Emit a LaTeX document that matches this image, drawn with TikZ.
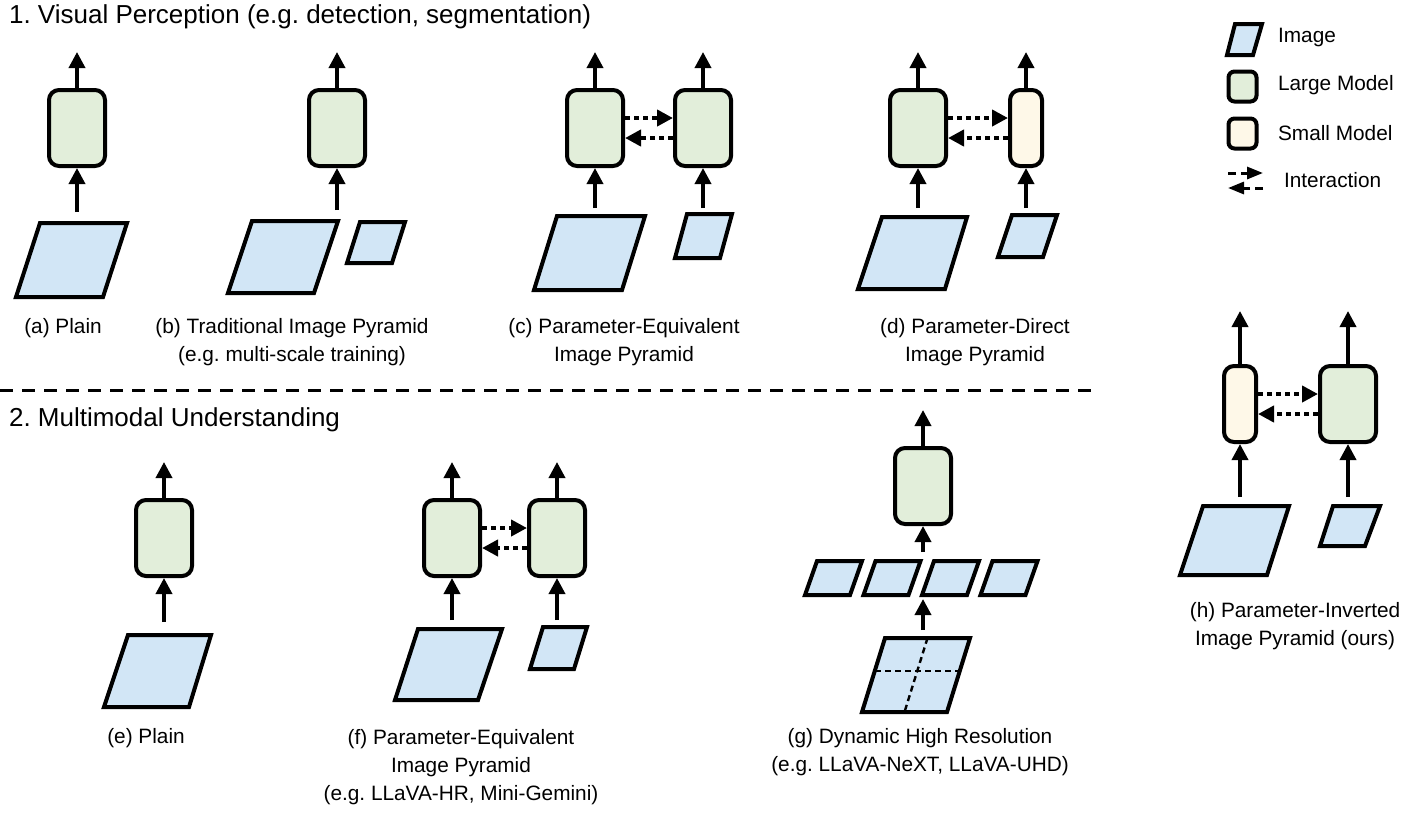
\documentclass[tikz,border=0pt]{standalone}
\usepackage{fontspec}
\setmainfont{Liberation Sans}
\usetikzlibrary{arrows.meta,positioning}
\frenchspacing

\definecolor{imgblue}{HTML}{D2E6F6}
\definecolor{largegreen}{HTML}{E2EEDA}
\definecolor{smallyellow}{HTML}{FEF8E8}

\begin{document}
\begin{tikzpicture}[
x=0.5pt, y=-0.5pt,
font=\fontsize{10.4}{14}\selectfont,
large/.style={draw, line width=2pt, rounded corners=5pt, fill=largegreen, minimum width=28pt, minimum height=38pt, inner sep=0pt},
small/.style={large, fill=smallyellow, minimum width=16pt},
img/.style={draw, line width=2pt, fill=imgblue, line join=miter},
flow/.style={line width=1.8pt, -{Triangle[width=8pt,length=8pt]}},
inter/.style={line width=2pt, dash pattern=on 2.5pt off 2pt, -{Triangle[width=8pt,length=8pt]}},
legarrow/.style={line width=1.5pt, dash pattern=on 4pt off 2.5pt, -{Triangle[width=6pt,length=8pt]}},
heading/.style={anchor=west, font=\fontsize{13}{16}\selectfont},
caption/.style={align=center},
divider/.style={line width=1.5pt, dash pattern=on 6.5pt off 4.5pt}
]
    \useasboundingbox (0,0) rectangle (1411,815);

    % Headings
    \node[heading] (head1) at (2,17) {1. Visual Perception (e.g. detection, segmentation)};
    \node[heading] (head2) at (2,420) {2. Multimodal Understanding};
    \draw[divider] (0,390) -- (1100,390);

    % (a) plain
    \draw[img] (40,223) -- (127,223) -- (103,297) -- (16,297) -- cycle;
    \coordinate (ia) at (77,212);
    \node[large] (ma) at (77,128) {};
    \draw[flow] (ia) -- (ma);
    \draw[flow] (ma.north) -- ++(0,-36);
    \node[caption] (capa) at (63,328) {(a) Plain};

    % (b) traditional pyramid
    \draw[img] (252,221) -- (338,221) -- (314,293) -- (228,293) -- cycle;
    \draw[img] (360,222) -- (405,222) -- (392,263) -- (347,263) -- cycle;
    \coordinate (ib) at (337,210);
    \node[large] (mb) at (337,128) {};
    \draw[flow] (ib) -- (mb);
    \draw[flow] (mb.north) -- ++(0,-36);
    \node[caption] (capb) at (292,342) {(b) Traditional Image Pyramid\\(e.g. multi-scale training)};

    % (c) parameter-equivalent
    \draw[img] (557,216) -- (645,216) -- (622,290) -- (534,290) -- cycle;
    \draw[img] (687,214) -- (732,214) -- (720,258) -- (675,258) -- cycle;
    \coordinate (ic1) at (595,208);
    \coordinate (ic2) at (703,208);
    \node[large] (mc1) at (595,128) {};
    \node[large] (mc2) at (703,128) {};
    \draw[flow] (ic1) -- (mc1);
    \draw[flow] (ic2) -- (mc2);
    \draw[flow] (mc1.north) -- ++(0,-36);
    \draw[flow] (mc2.north) -- ++(0,-36);
    \draw[inter] ([yshift=5pt]mc1.east) -- ([yshift=5pt]mc2.west);
    \draw[inter] ([yshift=-5pt]mc2.west) -- ([yshift=-5pt]mc1.east);
    \node[caption] (capc) at (624,342) {(c) Parameter-Equivalent\\Image Pyramid};

    % (d) parameter-direct
    \draw[img] (882,217) -- (967,217) -- (945,289) -- (858,289) -- cycle;
    \draw[img] (1012,215) -- (1057,215) -- (1043,257) -- (998,257) -- cycle;
    \coordinate (id1) at (918,208);
    \coordinate (id2) at (1026,208);
    \node[large] (md1) at (918,128) {};
    \node[small] (md2) at (1026,128) {};
    \draw[flow] (id1) -- (md1);
    \draw[flow] (id2) -- (md2);
    \draw[flow] (md1.north) -- ++(0,-36);
    \draw[flow] (md2.north) -- ++(0,-36);
    \draw[inter] ([yshift=5pt]md1.east) -- ([yshift=5pt]md2.west);
    \draw[inter] ([yshift=-5pt]md2.west) -- ([yshift=-5pt]md1.east);
    \node[caption] (capd) at (975,342) {(d) Parameter-Direct\\Image Pyramid};

    % (e) plain
    \draw[img] (128,635) -- (211,635) -- (189,707) -- (104,707) -- cycle;
    \coordinate (ie) at (164,622);
    \node[large] (me) at (164,538) {};
    \draw[flow] (ie) -- (me);
    \draw[flow] (me.north) -- ++(0,-36);
    \node[caption] (cape) at (146,738) {(e) Plain};

    % (f) parameter-equivalent
    \draw[img] (418,629) -- (502,629) -- (478,700) -- (395,700) -- cycle;
    \draw[img] (543,627) -- (587,627) -- (574,669) -- (530,669) -- cycle;
    \coordinate (if1) at (452,620);
    \coordinate (if2) at (557,620);
    \node[large] (mf1) at (452,538) {};
    \node[large] (mf2) at (557,538) {};
    \draw[flow] (if1) -- (mf1);
    \draw[flow] (if2) -- (mf2);
    \draw[flow] (mf1.north) -- ++(0,-36);
    \draw[flow] (mf2.north) -- ++(0,-36);
    \draw[inter] ([yshift=5pt]mf1.east) -- ([yshift=5pt]mf2.west);
    \draw[inter] ([yshift=-5pt]mf2.west) -- ([yshift=-5pt]mf1.east);
    \node[caption] (capf) at (461,767) {(f) Parameter-Equivalent\\Image Pyramid\\(e.g. LLaVA-HR, Mini-Gemini)};

    % (g) dynamic high resolution
    \draw[img] (885,638) -- (970,638) -- (947,712) -- (862,712) -- cycle;
    \draw[line width=1.2pt, dash pattern=on 3pt off 2pt] (875,671) -- (960,671);
    \draw[line width=1.2pt, dash pattern=on 3pt off 2pt] (927.5,638) -- (904.5,712);
    \foreach \i in {0,1,2,3}
      \draw[img] (817+58.5*\i,561) -- (862+58.5*\i,561) -- (850+58.5*\i,595) -- (805+58.5*\i,595) -- cycle;
    \coordinate (ig1) at (923,630);
    \coordinate (ig2) at (923,599);
    \coordinate (ig3) at (923,552);
    \node[large] (mg) at (923,486) {};
    \draw[flow] (ig1) -- (ig2);
    \draw[flow] (ig3) -- (mg);
    \draw[flow] (mg.north) -- ++(0,-36);
    \node[caption] (capg) at (920,752) {(g) Dynamic High Resolution\\(e.g. LLaVA-NeXT, LLaVA-UHD)};

    % (h) parameter-inverted (ours)
    \draw[img] (1203,506) -- (1289,506) -- (1267,575) -- (1180,575) -- cycle;
    \draw[img] (1333,506) -- (1380,506) -- (1365,546) -- (1320,546) -- cycle;
    \coordinate (ih1) at (1240,497);
    \coordinate (ih2) at (1348,497);
    \node[small] (mh1) at (1240,404) {};
    \node[large] (mh2) at (1348,404) {};
    \draw[flow] (ih1) -- (mh1);
    \draw[flow] (ih2) -- (mh2);
    \draw[flow] (mh1.north) -- ++(0,-53);
    \draw[flow] (mh2.north) -- ++(0,-53);
    \draw[inter] ([yshift=5pt]mh1.east) -- ([yshift=5pt]mh2.west);
    \draw[inter] ([yshift=-5pt]mh2.west) -- ([yshift=-5pt]mh1.east);
    \node[caption] (caph) at (1295,626) {(h) Parameter-Inverted\\Image Pyramid (ours)};

    % Legend
    \draw[img] (1235,24) -- (1262,24) -- (1253,55) -- (1227,55) -- cycle;
    \node[large, minimum width=14pt, minimum height=15pt, rounded corners=3pt] (lgl) at (1242.5,86.5) {};
    \node[small, minimum width=14pt, minimum height=15pt, rounded corners=3pt] (lgs) at (1242.5,133.5) {};
    \coordinate (lga) at (1228,173);
    \coordinate (lgb) at (1263,173);
    \coordinate (lgc) at (1228,188);
    \coordinate (lgd) at (1263,188);
    \draw[legarrow] (lga) -- (lgb);
    \draw[legarrow] (lgd) -- (lgc);
    \node[anchor=west] (txi) at (1271,37) {Image};
    \node[anchor=west] (txl) at (1271,85) {Large Model};
    \node[anchor=west] (txs) at (1271,133) {Small Model};
    \node[anchor=west] (txn) at (1277,180) {Interaction};

\end{tikzpicture}
\end{document}
